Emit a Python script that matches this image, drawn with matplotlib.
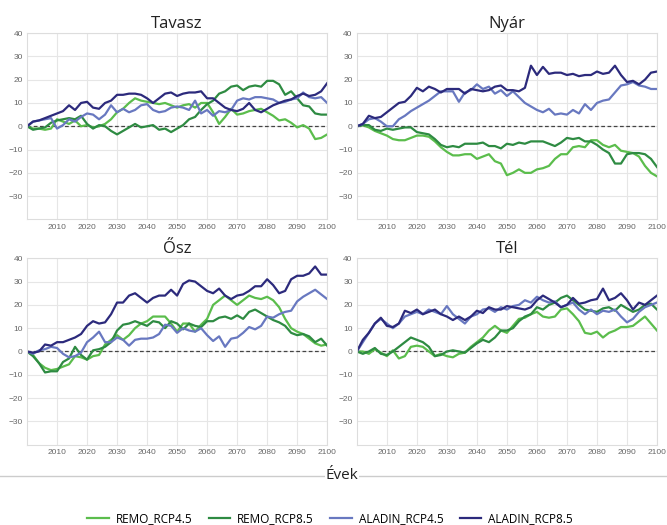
import numpy as np
import matplotlib
matplotlib.use('Agg')
import matplotlib.pyplot as plt
from matplotlib.lines import Line2D

# evek (minden masodik ev)
years = list(range(2000, 2101, 2))

series_names = ['REMO_RCP4.5', 'REMO_RCP8.5', 'ALADIN_RCP4.5', 'ALADIN_RCP8.5']
colors = ['#5bbd4c', '#2e8b42', '#6878c0', '#2c2a7c']

# Tavasz
tavasz_r45 = [0, -1, -1, -1.5, -1, 3, 2, 1, 2.5, 0, 0.5, -0.5, 0, 1, 3, 6, 7.5, 10, 12, 11,
              10.5, 10, 9.5, 10, 9, 8, 9, 9.5, 8, 10, 10, 6, 1, 4, 7.5, 5, 5.5, 6.5, 7, 7.5,
              6, 4.5, 2.5, 3, 1.5, -0.5, 0.5, -1, -5.5, -5, -3.5]
tavasz_r85 = [0, -1.5, -1, -0.5, 1.5, 2.5, 3, 3.5, 3, 4.5, 1, -1, 0.5, 0, -2, -3.5, -2, -0.5, 1, -0.5,
              0, 0.5, -1.5, -1, -2.5, -1, 0.5, 3, 4, 7, 9.5, 11, 14, 15, 17, 17.5, 15.5, 17, 17.5, 17,
              19.5, 19.5, 18, 13.5, 15, 12, 9, 8.5, 5.5, 5, 5]
tavasz_a45 = [0, 2, 2.5, 3, 3.5, -1, 0.5, 3, 2, 4, 5.5, 5, 3, 5, 9, 6, 7.5, 6, 7, 9,
              9.5, 7, 6, 6.5, 8, 8.5, 8, 7, 11, 5.5, 7, 4.5, 6.5, 6, 7, 11, 12, 11.5, 12.5, 12.5,
              12, 11.5, 10, 10.5, 11.5, 12, 14.5, 12.5, 12, 12.5, 10]
tavasz_a85 = [0, 2, 2.5, 3.5, 4.5, 5.5, 6.5, 9, 7, 10, 10.5, 8, 7.5, 10, 11, 13.5, 13.5, 14, 14, 13.5,
              12, 10, 12, 14, 14.5, 13, 14, 14.5, 14.5, 15, 12, 12, 10, 8, 7, 6.5, 7.5, 10, 7, 6,
              7.5, 9, 10, 11, 11.5, 13, 14, 13, 13.5, 15, 18.5]

# Nyar
nyar_r45 = [0, 0.5, -0.5, -2, -3, -4, -5.5, -6, -6, -5, -4, -4, -4.5, -6.5, -9, -11, -12.5, -12.5, -12, -12,
            -14, -13, -12, -15, -16, -21, -20, -18.5, -20, -20, -18.5, -18, -17, -14, -12, -12, -9, -8.5, -9, -6,
            -6, -8, -9, -8, -10.5, -11, -11.5, -13, -17, -20, -21.5]
nyar_r85 = [0, 0.5, 0.5, -1.5, -2, -1, -1.5, -1, -0.5, -0.5, -2.5, -3, -3.5, -5.5, -8, -9, -8.5, -9, -7.5, -7.5,
            -7.5, -7, -8.5, -8.5, -9.5, -7.5, -8, -7, -7.5, -6.5, -6.5, -6.5, -7.5, -8.5, -7, -5, -5.5, -5, -6.5, -6.5,
            -8, -10, -11.5, -16, -16, -12, -11.5, -11.5, -12, -14, -17.5]
nyar_a45 = [0, 1, 3, 3.5, 2, 0, 0, 3, 4.5, 6.5, 8, 9.5, 11, 13, 15, 15, 15, 10.5, 14.5, 15.5,
            18, 16, 17, 14, 15.5, 13, 15, 12.5, 10, 8.5, 7, 6, 7.5, 5, 5.5, 5, 7, 5.5, 9.5, 7,
            10, 11, 11.5, 14.5, 17.5, 18, 19, 17.5, 17, 16, 16]
nyar_a85 = [0, 1, 4.5, 3.5, 4, 6, 8, 10, 10.5, 13, 16.5, 15, 17, 16, 14.5, 16, 16, 16, 14, 16,
            15.5, 15, 15.5, 17, 17.5, 15.5, 15.5, 15, 16.5, 26, 22, 25.5, 22.5, 23, 23, 22, 22.5, 21.5, 22, 22,
            23.5, 22.5, 23, 26, 22, 19, 19.5, 18, 20, 23, 23.5]

# Osz
osz_r45 = [0, -1.5, -5, -7, -8, -7.5, -6.5, -5.5, -2, -2.5, -3.5, -2, -1.5, 3, 5, 7, 5, 7, 10, 12,
           13, 15, 15, 15, 12, 8.5, 12, 12, 8.5, 11.5, 14, 20, 22, 24, 22, 20, 22, 24, 23, 22.5,
           23.5, 22, 19, 14, 10, 8.5, 7.5, 5.5, 3.5, 2.5, 3]
osz_r85 = [0, -2, -5, -9, -8.5, -8.5, -4.5, -3, 2, -1.5, -3.5, 0.5, 1, 2, 4, 9, 11.5, 12, 13, 12,
           11, 13, 12.5, 10, 13, 12, 9.5, 12, 11, 10.5, 13, 13, 14.5, 15, 14, 15.5, 14, 17, 18, 16.5,
           15, 13.5, 12.5, 11, 8, 7, 7.5, 6.5, 4, 5.5, 2.5]
osz_a45 = [0, -1, 0.5, 1, 2, 1.5, -1, -2.5, -2, -0.5, 4, 6, 8.5, 4, 4, 6, 5, 2.5, 5, 5.5,
           5.5, 6, 7.5, 11.5, 11, 8, 10, 9, 8.5, 10, 7, 4.5, 6.5, 2, 5.5, 6, 8, 10.5, 9.5, 11,
           15, 14.5, 16, 17, 17.5, 21.5, 23.5, 25, 26.5, 24.5, 22.5]
osz_a85 = [0, -0.5, 0, 3, 2.5, 4, 4, 5, 6, 7.5, 11, 13, 12, 12.5, 16, 21, 21, 24, 25, 23,
           21, 23, 24, 24, 26.5, 24, 29, 30.5, 30, 28, 26, 25, 27, 24, 22.5, 24, 24.5, 26, 28, 28,
           31, 28.5, 25, 26, 31, 32.5, 32.5, 33.5, 36.5, 33, 33]

# Tel
tel_r45 = [0, 0, -1, 1, -0.5, -2, 0.5, -3, -2, 2, 2.5, 2, 0, -2, -1, -2, -2.5, -1, -0.5, 2,
           4, 6, 9, 11, 9, 8, 11, 14, 14.5, 16, 17, 15, 14.5, 15, 18, 18.5, 16, 13, 8, 7.5,
           8.5, 6, 8, 9, 10.5, 10.5, 11, 13, 15, 12, 9]
tel_r85 = [0, -1, 0, 1.5, -1, -1.5, 0, 2, 4, 6, 5, 4, 2, -2, -1.5, 0, 0.5, 0, -0.5, 1.5,
           3.5, 5, 4, 6, 9, 9, 10, 13, 15, 16, 19, 18, 20, 21, 23, 24, 22, 20, 18, 17.5,
           17, 18.5, 19, 17.5, 20, 18.5, 17, 18, 20, 20.5, 18]
tel_a45 = [0, 4, 8, 12, 14, 12, 10, 12, 15, 16, 17, 16, 18, 17, 16, 19.5, 16, 14, 12, 15,
           16, 18, 18.5, 17, 19, 18, 19.5, 20, 22, 21, 23.5, 22, 21, 21.5, 19, 20, 21, 18, 16, 18,
           16, 17.5, 17, 18, 15, 12.5, 14, 17, 19, 20, 21]
tel_a85 = [0, 5, 8, 12, 14.5, 11, 10.5, 12, 17.5, 16.5, 18, 16, 17, 18, 16, 15, 13.5, 15, 13.5, 15,
           17.5, 16.5, 19, 18, 18, 19.5, 19, 18.5, 18, 19, 22, 24, 22.5, 21, 19, 20, 23, 20.5, 21, 22,
           22.5, 27, 22, 23, 25, 22, 18, 21, 20, 22, 24]

seasons = ['Tavasz', 'Nyár', 'Ősz', 'Tél']
season_data = [
    [tavasz_r45, tavasz_r85, tavasz_a45, tavasz_a85],
    [nyar_r45, nyar_r85, nyar_a45, nyar_a85],
    [osz_r45, osz_r85, osz_a45, osz_a85],
    [tel_r45, tel_r85, tel_a45, tel_a85],
]

fig = plt.figure(figsize=(6.67, 5.25), dpi=100)

# tengelyek helye (figura aranyban)
lefts = [0.0405, 0.535]
bottoms = [0.582, 0.153]
w, h = 0.45, 0.355

for i, name in enumerate(seasons):
    ax = fig.add_axes([lefts[i % 2], bottoms[i // 2], w, h])
    for vals, c in zip(season_data[i], colors):
        ax.plot(years, vals, color=c, lw=1.6)
    ax.axhline(0, color='#444444', lw=0.9, ls=(0, (3, 2)), zorder=1)
    ax.set_xlim(2000, 2100)
    ax.set_ylim(-40, 40)
    ax.set_xticks(range(2010, 2101, 10))
    ax.set_yticks(range(-30, 41, 10))
    ax.grid(True, color='#e6e6e6', lw=0.8)
    ax.set_axisbelow(True)
    ax.tick_params(length=0, labelsize=6, labelcolor='#666666', pad=3)
    for lab in ax.get_xticklabels() + ax.get_yticklabels():
        lab.set_family('Liberation Sans')
    for s in ax.spines.values():
        s.set_color('#dddddd')
        s.set_linewidth(0.8)
    ax.set_title(name, fontsize=12, family='Open Sans', color='#222222', pad=4)

# also "Evek" felirat es vonal
fig.add_artist(Line2D([0, 1], [0.0935, 0.0935], color='#cccccc', lw=1))
fig.text(0.513, 0.0945, 'Évek', ha='center', va='center', fontsize=11,
         family='Open Sans', color='#222222',
         bbox=dict(facecolor='white', edgecolor='none', pad=0.5))

handles = [Line2D([], [], color=c, lw=1.6) for c in colors]
fig.legend(handles, series_names, loc='center', bbox_to_anchor=(0.495, 0.013), ncol=4,
           frameon=False, prop={'family': 'Open Sans', 'size': 8.5}, handlelength=1.8,
           handletextpad=0.6, columnspacing=1.4, borderpad=0)

fig.savefig('out.png', dpi=100)
